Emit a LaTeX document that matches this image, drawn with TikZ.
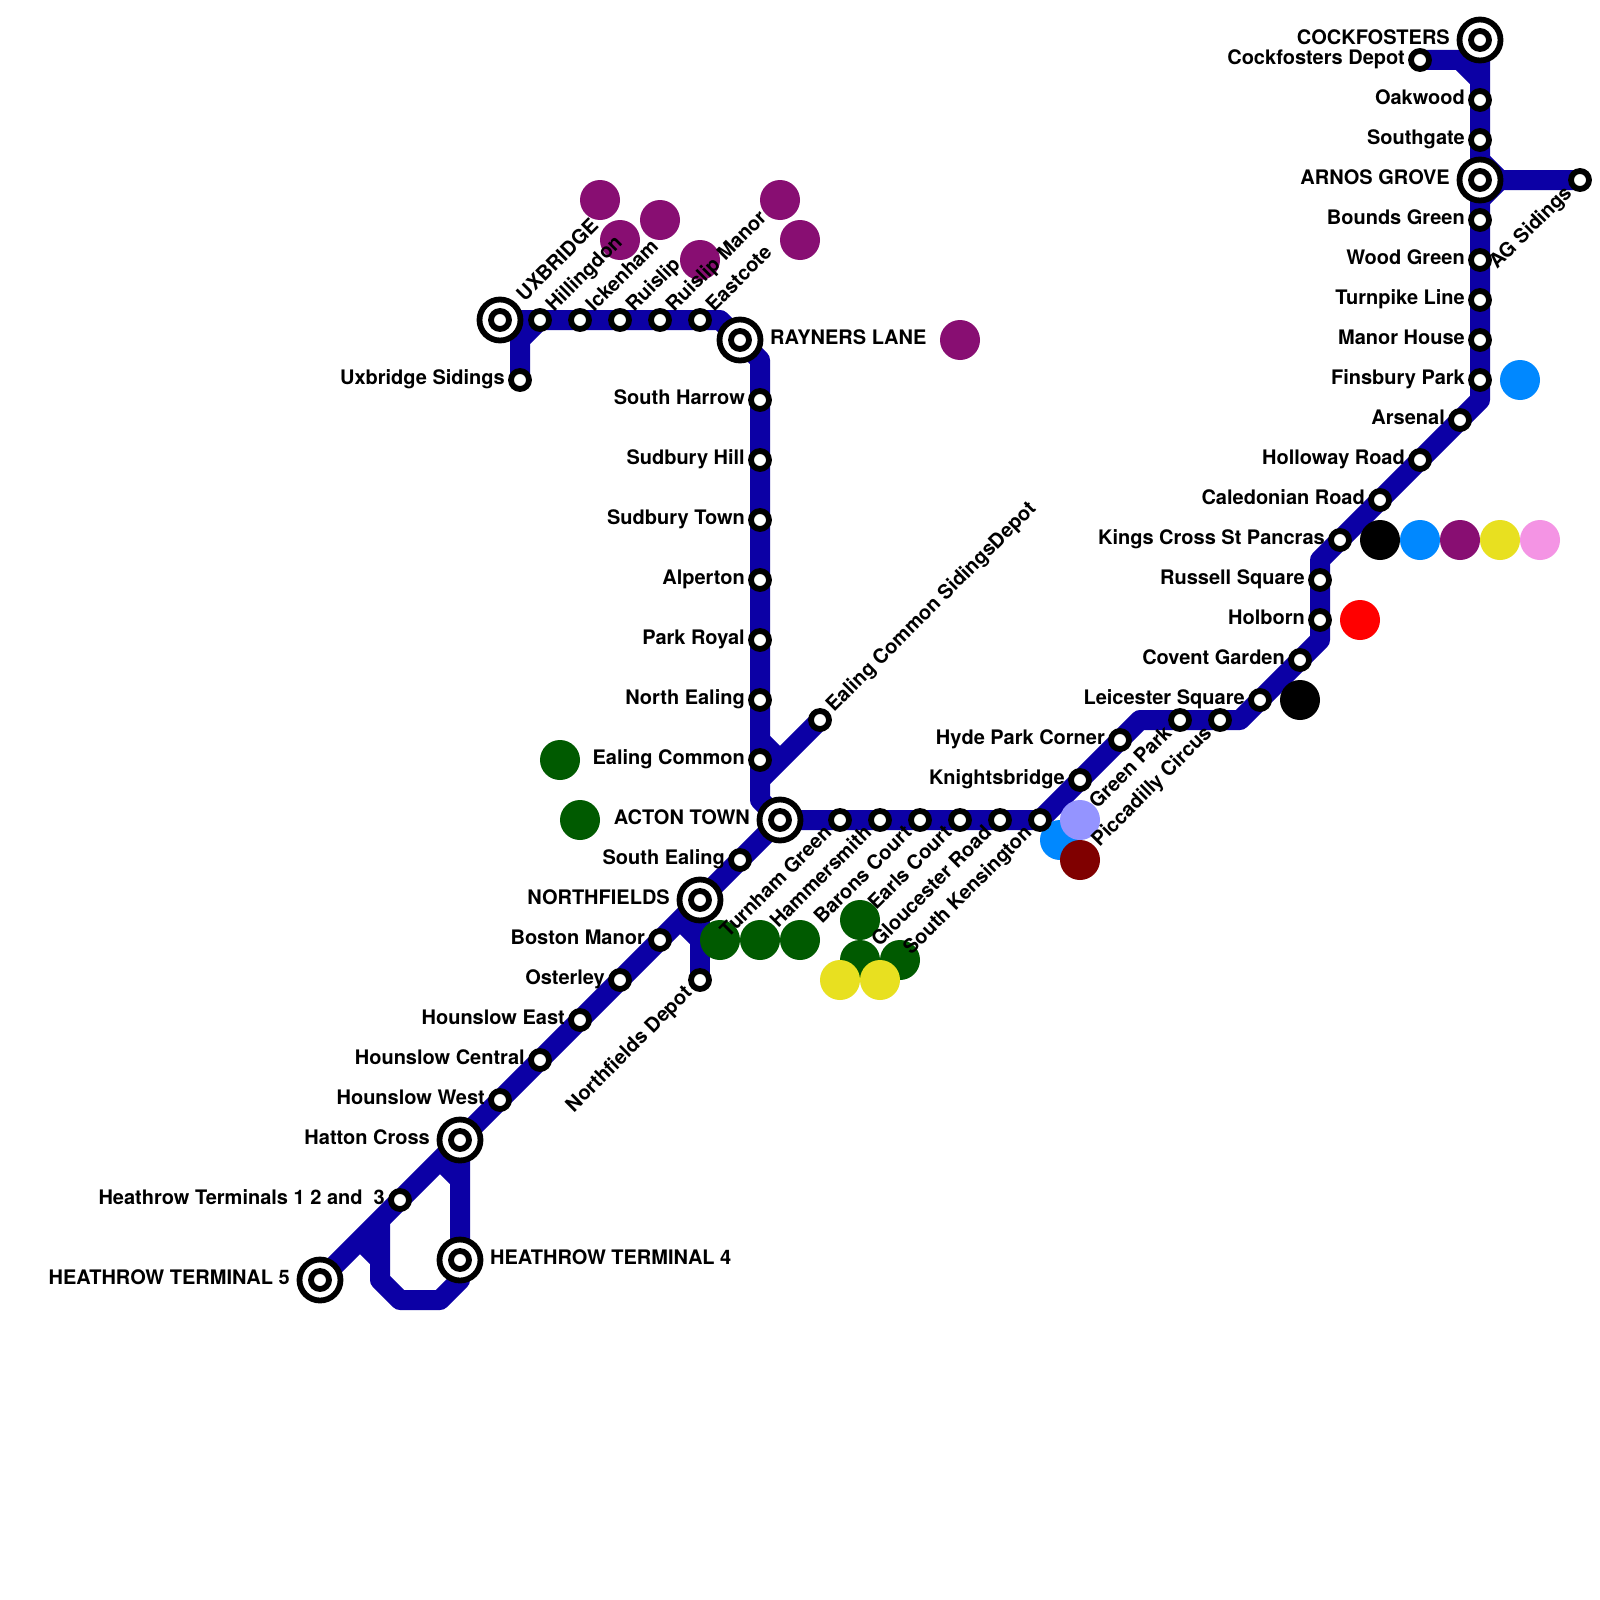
\documentclass[tikz,border=0pt]{standalone}
\usepackage{fontspec}
\setmainfont{TeX Gyre Heros}
\definecolor{tube}{HTML}{0C00A5}
\definecolor{cpurple}{HTML}{880E72}
\definecolor{cgreen}{HTML}{005A00}
\definecolor{cyellow}{HTML}{E8E020}
\definecolor{cblue}{HTML}{0088FF}
\definecolor{clav}{HTML}{9494FF}
\definecolor{cdred}{HTML}{800000}
\definecolor{cpink}{HTML}{F494E4}
\tikzset{
  tubeline/.style={draw=tube,line width=20pt,line join=round,line cap=butt},
  stn/.style={circle,draw=black,fill=white,line width=5.8pt,minimum size=18pt,inner sep=0pt},
  bigstn/.style={circle,draw=black,fill=white,line width=5.8pt,minimum size=41pt,inner sep=0pt},
  lbl/.style={font=\fontsize{20pt}{21pt}\selectfont\bfseries,inner sep=0pt,text=black},
  dot/.style={circle,fill=#1,minimum size=40pt,inner sep=0pt,draw=none},
}
% label helpers: name, label; L = left, R = right, U = rotated start-anchored, D = rotated end-anchored
\newcommand{\lblL}[3][15]{\node[lbl,anchor=base east] (t#2) at ([shift={(-#1,4.9)}]#2) {#3};}
\newcommand{\lblR}[3][30]{\node[lbl,anchor=base west] (t#2) at ([shift={(#1,4.9)}]#2) {#3};}
\newcommand{\lblU}[3][15]{\node[lbl,anchor=base west,rotate=45] (t#2) at ([shift={({(#1+4.9)*0.7071},{(4.9-#1)*0.7071})}]#2) {#3};}
\newcommand{\lblD}[3][15]{\node[lbl,anchor=base east,rotate=45] (t#2) at ([shift={({(4.9-#1)*0.7071},{(#1+4.9)*0.7071})}]#2) {#3};}
\newcommand{\stnat}[1]{\node[stn] (s#1) at (#1) {};}
\newcommand{\bigat}[1]{\node[bigstn] (b#1) at (#1) {};\node[stn] (s#1) at (#1) {};}
\begin{document}
\begin{tikzpicture}[x=1pt,y=-1pt]
\useasboundingbox (0,0) rectangle (1600,1600);
\fill[white] (0,0) rectangle (1600,1600);
% station and bend coordinates
\foreach \n/\x/\y in {
 ub/500/320,hil/540/320,ick/580/320,rui/620/320,rma/660/320,eas/700/320,ray/740/340,usd/520/380,
 sha/760/400,shi/760/460,sto/760/520,alp/760/580,par/760/640,nea/760/700,eac/760/760,ecd/820/720,
 act/780/820,sea/740/860,nor/700/900,bos/660/940,ost/620/980,hoe/580/1020,hoc/540/1060,how/500/1100,
 hat/460/1140,ter/400/1200,tfv/320/1280,tfo/460/1260,nfd/700/980,
 tur/840/820,ham/880/820,bar/920/820,ear/960/820,glo/1000/820,sken/1040/820,
 kni/1080/780,hyd/1120/740,gre/1180/720,pic/1220/720,lei/1260/700,cov/1300/660,hol/1320/620,rus/1320/580,
 kin/1340/540,cal/1380/500,hlw/1420/460,ars/1460/420,fin/1480/380,man/1480/340,tpk/1480/300,woo/1480/260,
 bou/1480/220,arn/1480/180,sou/1480/140,oak/1480/100,coc/1480/40,cde/1420/60,ags/1580/180,
 a1/720/320,a2/760/360,a3/520/340,a4/760/740,a5/780/760,a6/760/780,a7/760/800,
 b1/680/920,b2/700/940,c1/440/1160,c2/460/1180,c3/460/1280,c4/440/1300,c5/400/1300,c6/380/1280,c7/380/1220,
 d1/360/1240,d2/380/1260,e1/1140/720,e2/1240/720,e3/1320/640,e4/1320/560,e5/1480/400,
 f1/1460/60,f2/1480/80,g1/1480/160,g2/1500/180,g3/1480/200}
 {\coordinate (\n) at (\x,\y);}
% lines
\draw[tubeline] (ub) -- (a1) -- (a2) -- (sha) -- (eac) -- (a7) -- (act) -- (tfv);
\draw[tubeline] (usd) -- (a3) -- (hil);
\draw[tubeline] (ecd) -- (a6);
\draw[tubeline] (a4) -- (a5);
\draw[tubeline] (nor) -- (nfd);
\draw[tubeline] (b1) -- (b2);
\draw[tubeline] (hat) -- (c3) -- (c4) -- (c5) -- (c6) -- (c7);
\draw[tubeline] (c1) -- (c2);
\draw[tubeline] (d1) -- (d2);
\draw[tubeline] (act) -- (sken) -- (e1) -- (e2) -- (e3) -- (e4) -- (e5) -- (coc);
\draw[tubeline] (cde) -- (f1) -- (f2);
\draw[tubeline] (g1) -- (g2) -- (ags);
\draw[tubeline] (g2) -- (g3);
% coloured interchange discs
\foreach \n/\x/\y/\c in {
 p1/600/200/cpurple,p2/620/240/cpurple,p3/660/220/cpurple,p4/700/260/cpurple,p5/780/200/cpurple,p6/800/240/cpurple,p7/960/340/cpurple,
 g1d/560/760/cgreen,g2d/580/820/cgreen,g3d/720/940/cgreen,g4d/760/940/cgreen,g5d/800/940/cgreen,g6d/860/920/cgreen,g7d/860/960/cgreen,g8d/900/960/cgreen,
 y1/840/980/cyellow,y2/880/980/cyellow,
 q1/1520/380/cblue,q2/1380/540/black,q3/1420/540/cblue,q4/1460/540/cpurple,q5/1500/540/cyellow,q6/1540/540/cpink,
 q7/1360/620/red,q8/1300/700/black,q9/1060/840/cblue,q10/1080/820/clav,q11/1080/860/cdred}
 {\node[dot=\c] (\n) at (\x,\y) {};}
% stations
\foreach \n in {hil,ick,rui,rma,eas,usd,sha,shi,sto,alp,par,nea,eac,ecd,sea,bos,ost,hoe,hoc,how,ter,nfd,
 tur,ham,bar,ear,glo,sken,kni,hyd,gre,pic,lei,cov,hol,rus,kin,cal,hlw,ars,fin,man,tpk,woo,bou,sou,oak,cde,ags}{\stnat{\n}}
\foreach \n in {ub,ray,act,nor,hat,tfv,tfo,arn,coc}{\bigat{\n}}
% labels
\lblU[30]{ub}{UXBRIDGE}
\lblU{hil}{Hillingdon}
\lblU{ick}{Ickenham}
\lblU{rui}{Ruislip}
\lblU{rma}{Ruislip Manor}
\lblU{eas}{Eastcote}
\lblR{ray}{RAYNERS LANE}
\lblL{usd}{Uxbridge Sidings}
\lblL{sha}{South Harrow}
\lblL{shi}{Sudbury Hill}
\lblL{sto}{Sudbury Town}
\lblL{alp}{Alperton}
\lblL{par}{Park Royal}
\lblL{nea}{North Ealing}
\lblL{eac}{Ealing Common}
\lblU{ecd}{Ealing Common SidingsDepot}
\lblL[30]{act}{ACTON TOWN}
\lblL{sea}{South Ealing}
\lblL[30]{nor}{NORTHFIELDS}
\lblL{bos}{Boston Manor}
\lblL{ost}{Osterley}
\lblL{hoe}{Hounslow East}
\lblL{hoc}{Hounslow Central}
\lblL{how}{Hounslow West}
\lblL[30]{hat}{Hatton Cross}
\lblL{ter}{Heathrow Terminals 1 2 and\ \ 3}
\lblL[30]{tfv}{HEATHROW TERMINAL 5}
\lblR{tfo}{HEATHROW TERMINAL 4}
\lblD{nfd}{Northfields Depot}
\lblD{tur}{Turnham Green}
\lblD{ham}{Hammersmith}
\lblD{bar}{Barons Court}
\lblD{ear}{Earls Court}
\lblD{glo}{Gloucester Road}
\lblD{sken}{South Kensington}
\lblL{kni}{Knightsbridge}
\lblL{hyd}{Hyde Park Corner}
\lblD{gre}{Green Park}
\lblD{pic}{Piccadilly Circus}
\lblL{lei}{Leicester Square}
\lblL{cov}{Covent Garden}
\lblL{hol}{Holborn}
\lblL{rus}{Russell Square}
\lblL{kin}{Kings Cross St Pancras}
\lblL{cal}{Caledonian Road}
\lblL{hlw}{Holloway Road}
\lblL{ars}{Arsenal}
\lblL{fin}{Finsbury Park}
\lblL{man}{Manor House}
\lblL{tpk}{Turnpike Line}
\lblL{woo}{Wood Green}
\lblL{bou}{Bounds Green}
\lblL[30]{arn}{ARNOS GROVE}
\lblL{sou}{Southgate}
\lblL{oak}{Oakwood}
\lblL{cde}{Cockfosters Depot}
\lblL[30]{coc}{COCKFOSTERS}
\lblD{ags}{AG Sidings}
\end{tikzpicture}
\end{document}
